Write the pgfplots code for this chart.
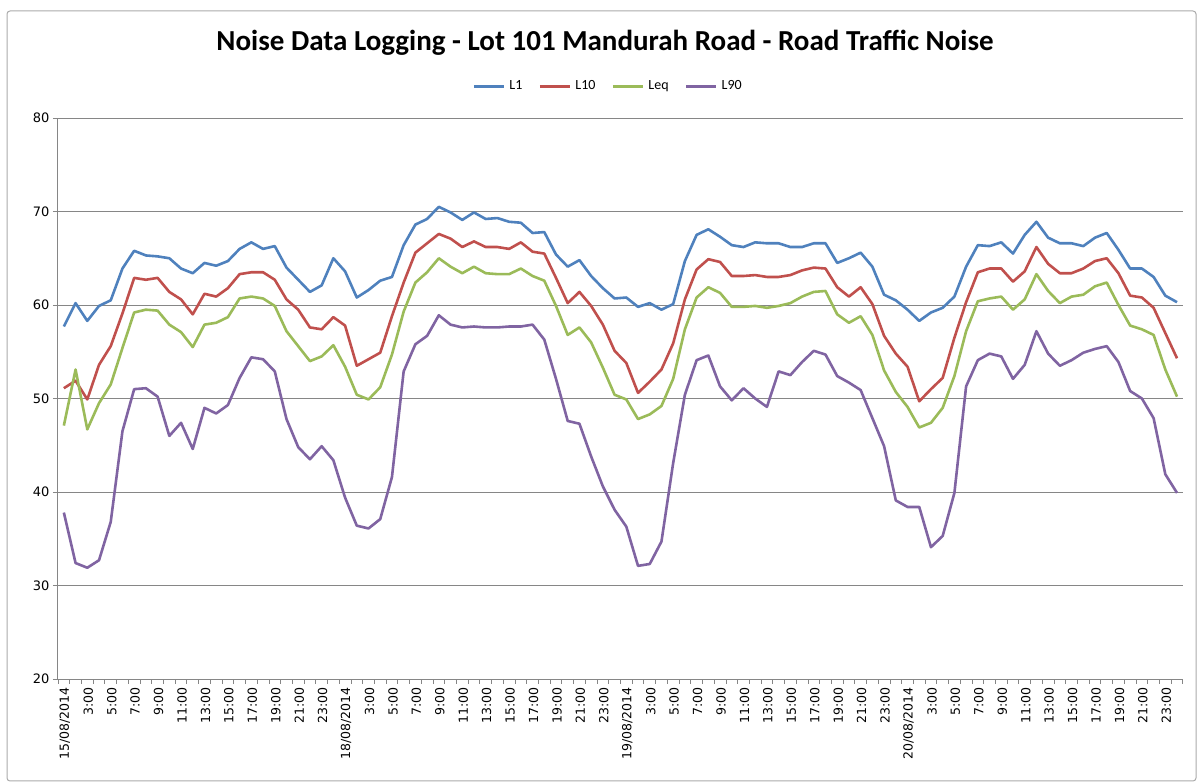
\documentclass[border=0pt]{standalone}
\usepackage{fontspec}
\setmainfont{DejaVu Sans}
\newfontfamily\calfont{Carlito}
\usepackage{pgfplots}
\usepackage{pgfplotstable}
\pgfplotsset{compat=1.18}
\definecolor{cL1}{HTML}{4F81BD}
\definecolor{cL10}{HTML}{C0504D}
\definecolor{cLeq}{HTML}{9BBB59}
\definecolor{cL90}{HTML}{8064A2}
\definecolor{gridc}{RGB}{134,134,134}
\pgfplotstableread{
L1 L10 Leq L90
57.7 51.1 47.1 37.8
60.2 51.9 53.1 32.4
58.3 49.9 46.7 31.9
59.9 53.6 49.5 32.7
60.5 55.6 51.5 36.8
63.9 59.1 55.4 46.5
65.8 62.9 59.2 51.0
65.3 62.7 59.5 51.1
65.2 62.9 59.4 50.2
65.0 61.4 57.9 46.0
63.9 60.6 57.1 47.4
63.4 59.0 55.5 44.6
64.5 61.2 57.9 49.0
64.2 60.9 58.1 48.4
64.7 61.8 58.7 49.3
66.0 63.3 60.7 52.2
66.7 63.5 60.9 54.4
66.0 63.5 60.7 54.2
66.3 62.7 59.9 52.9
64.0 60.6 57.2 47.8
62.7 59.5 55.6 44.8
61.4 57.6 54.0 43.5
62.1 57.4 54.5 44.9
65.0 58.7 55.7 43.4
63.6 57.8 53.4 39.4
60.8 53.5 50.4 36.4
61.6 54.2 49.9 36.1
62.6 54.9 51.2 37.1
63.0 58.8 54.7 41.6
66.4 62.4 59.3 52.9
68.6 65.6 62.4 55.8
69.2 66.6 63.5 56.7
70.5 67.6 65.0 58.9
69.9 67.1 64.1 57.9
69.1 66.2 63.4 57.6
69.9 66.8 64.1 57.7
69.2 66.2 63.4 57.6
69.3 66.2 63.3 57.6
68.9 66.0 63.3 57.7
68.8 66.7 63.9 57.7
67.7 65.7 63.1 57.9
67.8 65.5 62.6 56.3
65.4 62.9 59.9 52.1
64.1 60.2 56.8 47.6
64.8 61.4 57.6 47.3
63.1 59.9 56.0 43.8
61.8 57.9 53.3 40.6
60.7 55.1 50.4 38.1
60.8 53.8 49.9 36.3
59.8 50.6 47.8 32.1
60.2 51.8 48.3 32.3
59.5 53.1 49.2 34.7
60.1 55.9 52.1 43.1
64.7 60.6 57.4 50.4
67.5 63.8 60.8 54.1
68.1 64.9 61.9 54.6
67.3 64.6 61.3 51.3
66.4 63.1 59.8 49.8
66.2 63.1 59.8 51.1
66.7 63.2 59.9 50.0
66.6 63.0 59.7 49.1
66.6 63.0 59.9 52.9
66.2 63.2 60.2 52.5
66.2 63.7 60.9 53.9
66.6 64.0 61.4 55.1
66.6 63.9 61.5 54.7
64.5 61.9 59.0 52.4
65.0 60.9 58.1 51.7
65.6 61.9 58.8 50.9
64.1 60.1 56.8 47.9
61.1 56.7 53.0 44.9
60.5 54.8 50.7 39.1
59.5 53.4 49.1 38.4
58.3 49.7 46.9 38.4
59.2 51.0 47.4 34.1
59.7 52.2 49.0 35.3
60.9 56.5 52.4 39.9
64.1 60.3 57.2 51.3
66.4 63.5 60.4 54.1
66.3 63.9 60.7 54.8
66.7 63.9 60.9 54.5
65.5 62.5 59.5 52.1
67.5 63.6 60.6 53.6
68.9 66.2 63.3 57.2
67.2 64.4 61.5 54.8
66.6 63.4 60.2 53.5
66.6 63.4 60.9 54.1
66.3 63.9 61.1 54.9
67.2 64.7 62.0 55.3
67.7 65.0 62.4 55.6
65.9 63.4 60.0 53.9
63.9 61.0 57.8 50.8
63.9 60.8 57.4 50.0
63.0 59.7 56.8 47.9
61.0 57.0 53.1 41.9
60.3 54.3 50.2 39.9
}\noisedata
\begin{document}
\begin{tikzpicture}
\useasboundingbox (0,0) rectangle (1198bp,783bp);
\draw[gridc!70, line width=1bp, rounded corners=3bp] (7bp,2bp) rectangle (1196bp,772bp);
\node[font=\calfont\bfseries\fontsize{29bp}{33bp}\selectfont] at (605bp,740bp)
  {Noise Data Logging - Lot 101 Mandurah Road - Road Traffic Noise};
\begin{axis}[
  at={(58bp,104bp)}, anchor=south west,
  scale only axis, width=1125bp, height=561bp,
  xmin=-0.5, xmax=95.5, ymin=20, ymax=80,
  ytick={20,30,...,80},
  xtick={0,2,...,94},
  xticklabels={15/08/2014,3:00,5:00,7:00,9:00,11:00,13:00,15:00,17:00,19:00,21:00,23:00,
               18/08/2014,3:00,5:00,7:00,9:00,11:00,13:00,15:00,17:00,19:00,21:00,23:00,
               19/08/2014,3:00,5:00,7:00,9:00,11:00,13:00,15:00,17:00,19:00,21:00,23:00,
               20/08/2014,3:00,5:00,7:00,9:00,11:00,13:00,15:00,17:00,19:00,21:00,23:00},
  minor xtick={-0.5,0.5,...,95.5},
  major x tick style={draw=none},
  minor x tick style={gridc, line width=0.8bp},
  minor tick length=5bp,
  major tick length=5bp,
  tick align=outside,
  ytick style={gridc, line width=0.8bp},
  axis x line*=bottom, axis y line*=left,
  axis line style={gridc, line width=1bp, -},
  ymajorgrids, grid style={gridc, line width=1bp},
  /pgf/number format/assume math mode=true,
  x tick label style={rotate=90, anchor=east, font=\fontsize{12.5bp}{14bp}\selectfont},
  y tick label style={font=\fontsize{13bp}{15bp}\selectfont},
  xticklabel style={yshift=-1bp},
  legend columns=4,
  legend style={at={(0.489,1.057)}, anchor=center, draw=none, fill=none,
     font=\calfont\fontsize{14bp}{16bp}\selectfont,
     /tikz/every even column/.append style={column sep=14bp},
     /tikz/every odd column/.append style={column sep=2bp},
     inner sep=0pt},
  legend image code/.code={\draw[#1, line width=3bp] (0bp,0bp) -- (30bp,0bp);},
  every axis plot/.append style={line width=2.6bp, line join=round},
]
\addplot[cL1] table[x expr=\coordindex, y=L1]{\noisedata};
\addplot[cL10] table[x expr=\coordindex, y=L10]{\noisedata};
\addplot[cLeq] table[x expr=\coordindex, y=Leq]{\noisedata};
\addplot[cL90] table[x expr=\coordindex, y=L90]{\noisedata};
\legend{L1,L10,Leq,L90}
\end{axis}
\end{tikzpicture}
\end{document}
